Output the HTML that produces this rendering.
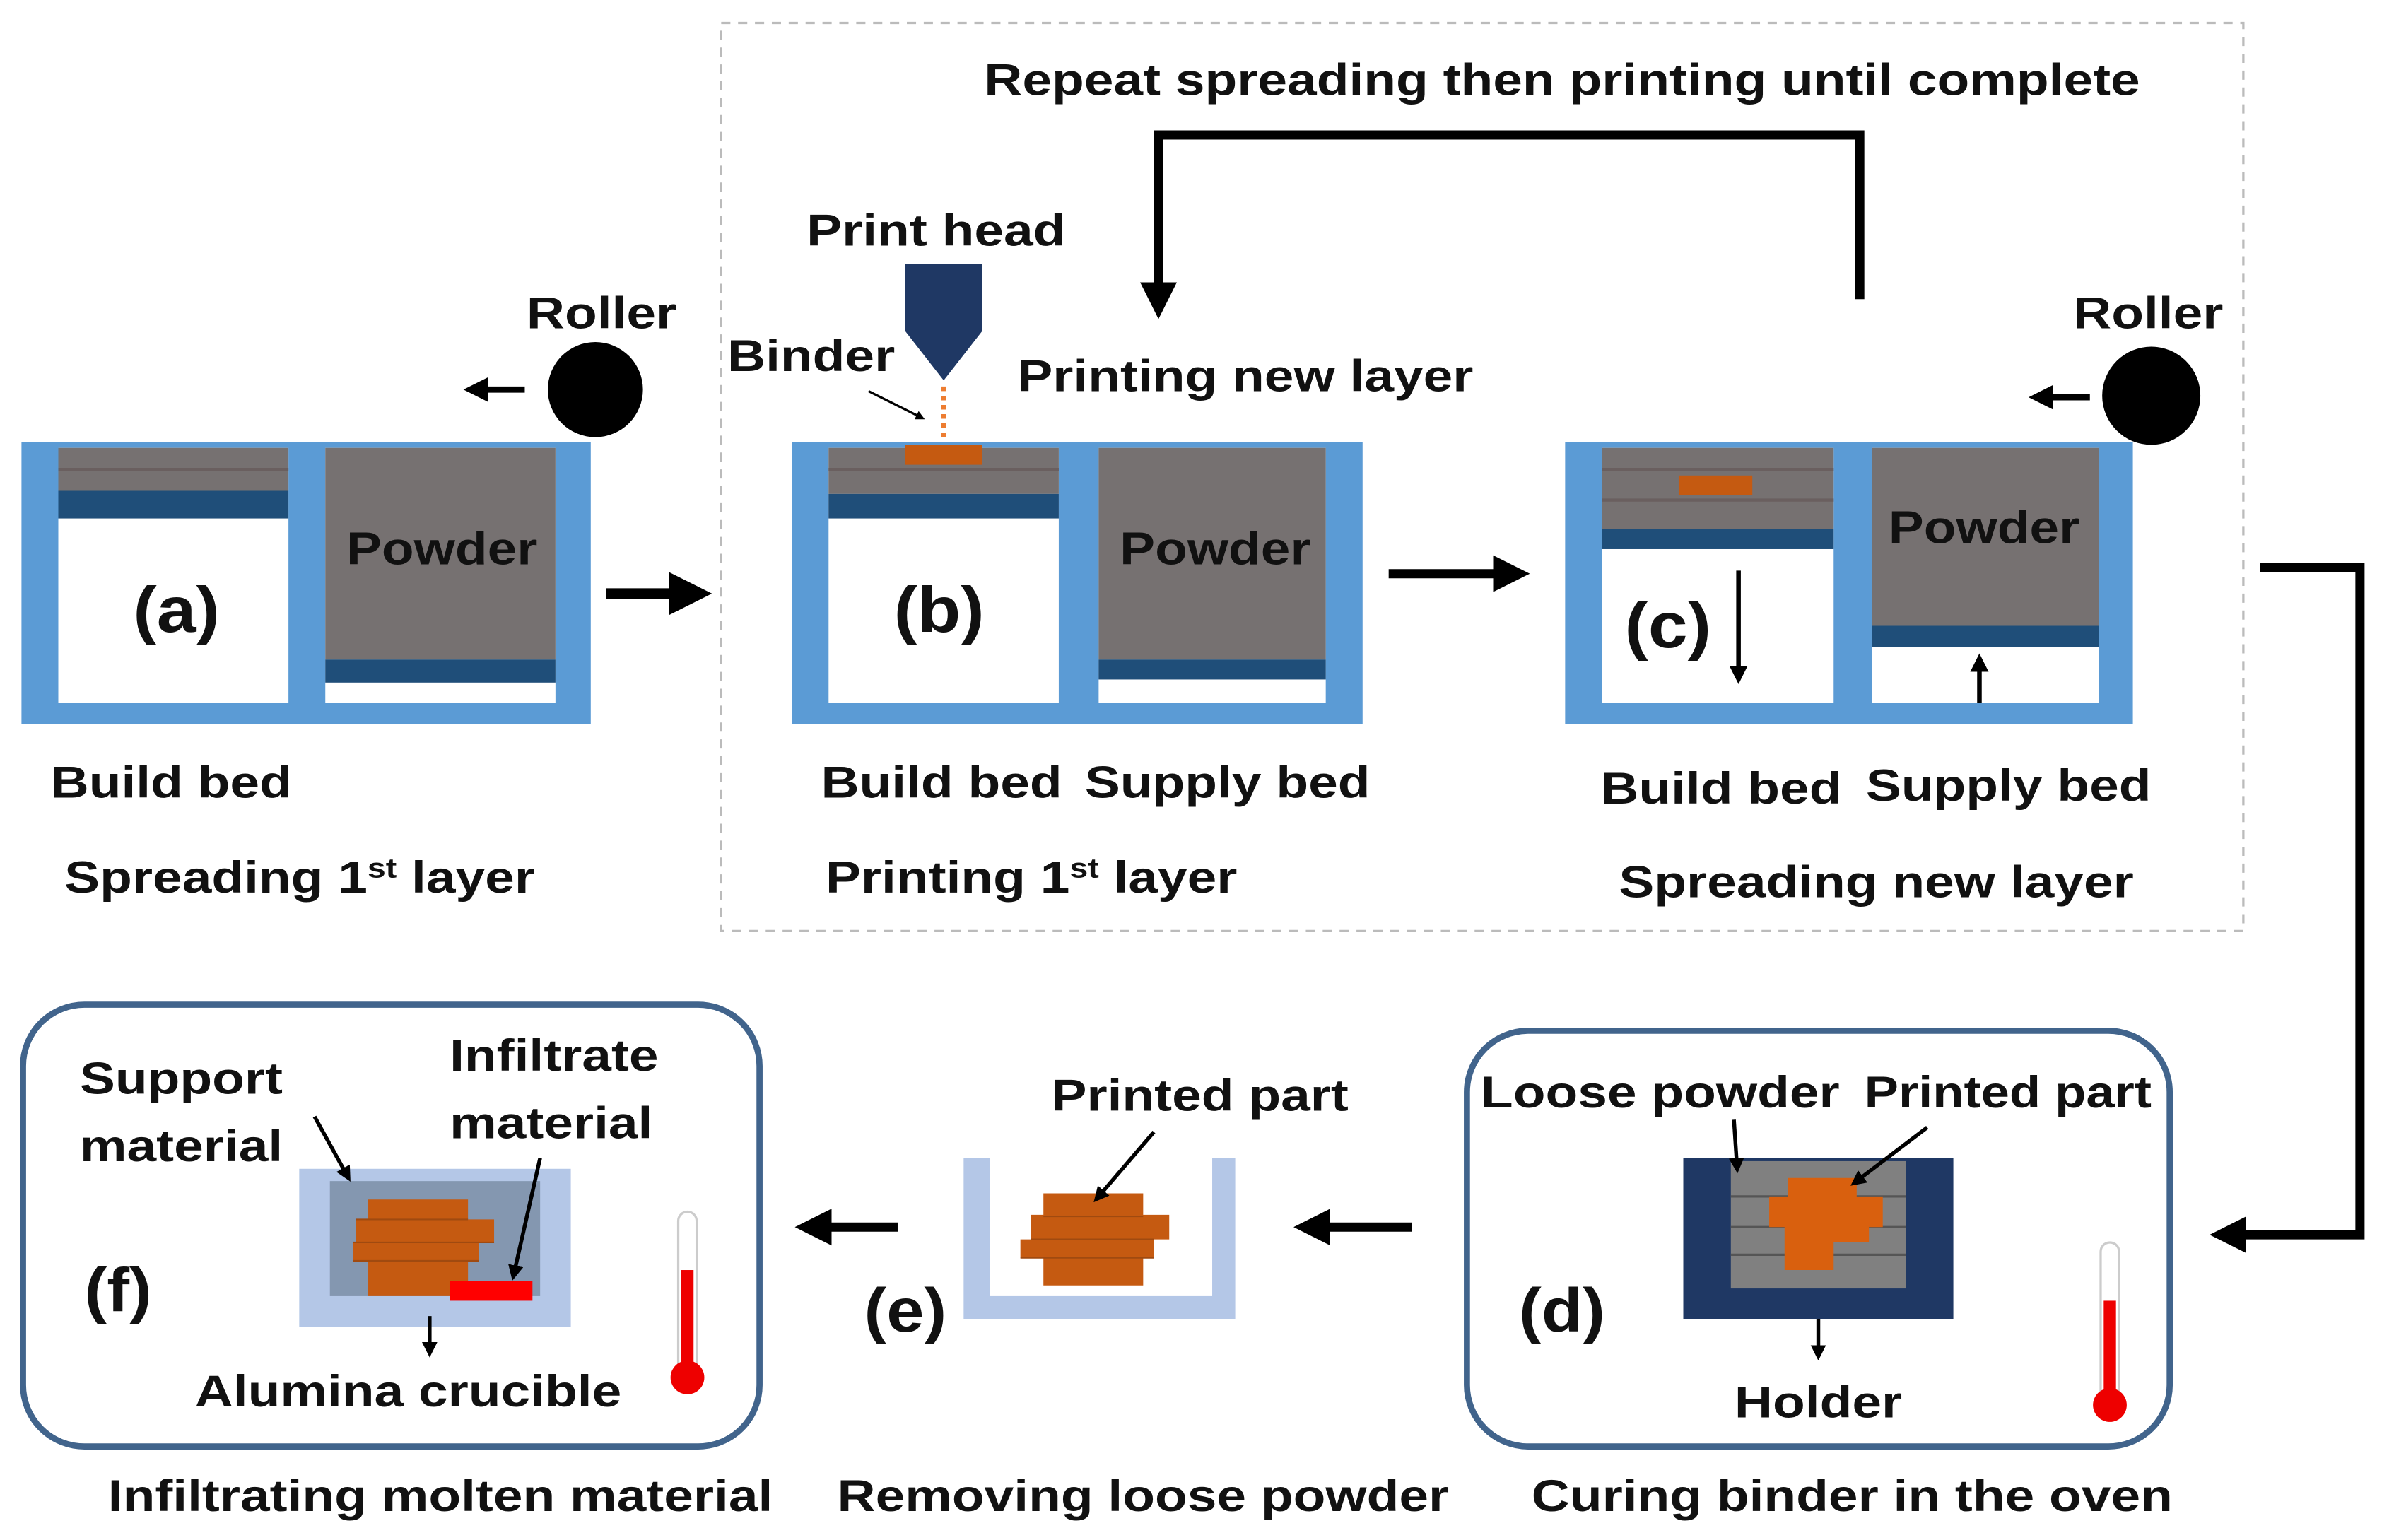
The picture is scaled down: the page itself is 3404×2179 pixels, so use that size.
<!DOCTYPE html>
<html><head><meta charset="utf-8"><style>html,body{margin:0;padding:0;background:#fff}svg{display:block}text{font-family:"Liberation Sans",sans-serif;font-weight:bold;fill:#111}</style></head>
<body>
<svg width="3404" height="2179" viewBox="0 0 1568 1004" preserveAspectRatio="none" xmlns="http://www.w3.org/2000/svg">
<defs>
<marker id="ah" markerWidth="4" markerHeight="4" refX="2" refY="2" orient="auto" markerUnits="strokeWidth"><path d="M0,0 L4,2 L0,4z" fill="#000"/></marker>
</defs>
<rect x="470" y="15" width="992" height="592" fill="none" stroke="#bbb" stroke-width="1.5" stroke-dasharray="6,5"/>
<text transform="matrix(1.19 0 0 1 1018 62)" font-size="29" text-anchor="middle">Repeat spreading then printing until complete</text>
<polyline points="1212,195 1212,88 755,88 755,196" fill="none" stroke="#000" stroke-width="6" marker-end="url(#ah)"/>

<!-- Panel a -->
<g>
<rect x="14" y="288" width="371" height="184" fill="#5b9bd5"/>
<rect x="38" y="292" width="150" height="166" fill="#fff"/>
<rect x="38" y="292" width="150" height="28" fill="#767171"/>
<line x1="38" y1="306" x2="188" y2="306" stroke="#6a5f5f" stroke-width="2"/>
<rect x="38" y="320" width="150" height="18" fill="#1f4e79"/>
<rect x="212" y="292" width="150" height="166" fill="#fff"/>
<rect x="212" y="292" width="150" height="138" fill="#767171"/>
<rect x="212" y="430" width="150" height="15" fill="#1f4e79"/>
<text transform="matrix(1.15 0 0 1 288 368)" font-size="30" text-anchor="middle">Powder</text>
<text transform="matrix(1.1 0 0 1 115 412)" font-size="42" text-anchor="middle">(a)</text>
<circle cx="388" cy="254" r="31" fill="#000"/>
<line x1="342" y1="254" x2="310" y2="254" stroke="#000" stroke-width="4" marker-end="url(#ah)"/>
<text transform="matrix(1.19 0 0 1 392 214)" font-size="29" text-anchor="middle">Roller</text>
<line x1="395" y1="387" x2="450" y2="387" stroke="#000" stroke-width="7" marker-end="url(#ah)"/>
<text transform="matrix(1.19 0 0 1 33 520)" font-size="29">Build bed</text>
<text transform="matrix(1.19 0 0 1 42 582)" font-size="29">Spreading  1<tspan font-size="18" dy="-10">st</tspan><tspan dy="10"> layer</tspan></text>
</g>

<!-- Panel b -->
<g>
<rect x="516" y="288" width="372" height="184" fill="#5b9bd5"/>
<rect x="540" y="292" width="150" height="166" fill="#fff"/>
<rect x="540" y="292" width="150" height="30" fill="#767171"/>
<line x1="540" y1="306" x2="690" y2="306" stroke="#6a5f5f" stroke-width="2"/>
<rect x="540" y="322" width="150" height="16" fill="#1f4e79"/>
<rect x="590" y="290" width="50" height="13" fill="#c55a11"/>
<rect x="716" y="292" width="148" height="166" fill="#fff"/>
<rect x="716" y="292" width="148" height="138" fill="#767171"/>
<rect x="716" y="430" width="148" height="13" fill="#1f4e79"/>
<text transform="matrix(1.15 0 0 1 792 368)" font-size="30" text-anchor="middle">Powder</text>
<text transform="matrix(1.1 0 0 1 612 412)" font-size="42" text-anchor="middle">(b)</text>
<rect x="590" y="172" width="50" height="44" fill="#1f3864"/>
<path d="M590,216 L640,216 L615,248z" fill="#1f3864"/>
<line x1="615" y1="252" x2="615" y2="288" stroke="#ed7d31" stroke-width="3" stroke-dasharray="3,3"/>
<line x1="566" y1="255" x2="600" y2="272" stroke="#000" stroke-width="1.5" marker-end="url(#ah)"/>
<text transform="matrix(1.19 0 0 1 610 160)" font-size="29" text-anchor="middle">Print head</text>
<text transform="matrix(1.19 0 0 1 474 242)" font-size="29">Binder</text>
<text transform="matrix(1.19 0 0 1 663 255)" font-size="29">Printing new layer</text>
<line x1="905" y1="374" x2="985" y2="374" stroke="#000" stroke-width="6" marker-end="url(#ah)"/>
<text transform="matrix(1.19 0 0 1 535 520)" font-size="29">Build bed</text>
<text transform="matrix(1.19 0 0 1 707 520)" font-size="29">Supply bed</text>
<text transform="matrix(1.19 0 0 1 538 582)" font-size="29">Printing  1<tspan font-size="18" dy="-10">st</tspan><tspan dy="10"> layer</tspan></text>
</g>

<!-- Panel c -->
<g>
<rect x="1020" y="288" width="370" height="184" fill="#5b9bd5"/>
<rect x="1044" y="292" width="151" height="166" fill="#fff"/>
<rect x="1044" y="292" width="151" height="53" fill="#767171"/>
<line x1="1044" y1="306" x2="1195" y2="306" stroke="#6a5f5f" stroke-width="2"/>
<line x1="1044" y1="326" x2="1195" y2="326" stroke="#6a5f5f" stroke-width="2"/>
<rect x="1094" y="310" width="48" height="13" fill="#c55a11"/>
<rect x="1044" y="345" width="151" height="13" fill="#1f4e79"/>
<rect x="1220" y="292" width="148" height="166" fill="#fff"/>
<rect x="1220" y="292" width="148" height="116" fill="#767171"/>
<rect x="1220" y="408" width="148" height="14" fill="#1f4e79"/>
<text transform="matrix(1.15 0 0 1 1293 354)" font-size="30" text-anchor="middle">Powder</text>
<text transform="matrix(1.1 0 0 1 1087 422)" font-size="42" text-anchor="middle">(c)</text>
<line x1="1133" y1="372" x2="1133" y2="440" stroke="#000" stroke-width="3" marker-end="url(#ah)"/>
<line x1="1290" y1="458" x2="1290" y2="432" stroke="#000" stroke-width="3" marker-end="url(#ah)"/>
<circle cx="1402" cy="258" r="32" fill="#000"/>
<line x1="1362" y1="259" x2="1330" y2="259" stroke="#000" stroke-width="4" marker-end="url(#ah)"/>
<text transform="matrix(1.19 0 0 1 1400 214)" font-size="29" text-anchor="middle">Roller</text>
<text transform="matrix(1.19 0 0 1 1043 524)" font-size="29">Build bed</text>
<text transform="matrix(1.19 0 0 1 1216 522)" font-size="29">Supply bed</text>
<text transform="matrix(1.19 0 0 1 1055 585)" font-size="29">Spreading new layer</text>
<polyline points="1473,370 1538,370 1538,805 1452,805" fill="none" stroke="#000" stroke-width="6" marker-end="url(#ah)"/>
</g>

<!-- Panel d -->
<g>
<rect x="956" y="672" width="458" height="271" rx="40" fill="#fff" stroke="#41648c" stroke-width="4"/>
<rect x="1097" y="755" width="176" height="105" fill="#1f3864"/>
<rect x="1128" y="757" width="114" height="83" fill="#808080"/>
<line x1="1128" y1="780" x2="1242" y2="780" stroke="#555" stroke-width="1.5"/>
<line x1="1128" y1="800" x2="1242" y2="800" stroke="#555" stroke-width="1.5"/>
<line x1="1128" y1="818" x2="1242" y2="818" stroke="#555" stroke-width="1.5"/>
<path d="M1165,768 L1210,768 L1210,780 L1227,780 L1227,800 L1218,800 L1218,810 L1195,810 L1195,828 L1163,828 L1163,800 L1153,800 L1153,780 L1165,780z" fill="#d9600e"/>
<line x1="1130" y1="730" x2="1132" y2="760" stroke="#000" stroke-width="2.5" marker-end="url(#ah)"/>
<line x1="1256" y1="735" x2="1210" y2="770" stroke="#000" stroke-width="2.5" marker-end="url(#ah)"/>
<line x1="1185" y1="860" x2="1185" y2="882" stroke="#000" stroke-width="2.5" marker-end="url(#ah)"/>
<text transform="matrix(1.19 0 0 1 965 722)" font-size="29">Loose powder</text>
<text transform="matrix(1.15 0 0 1 1215 722)" font-size="29">Printed part</text>
<text transform="matrix(1.1 0 0 1 1018 868)" font-size="40" text-anchor="middle">(d)</text>
<text transform="matrix(1.19 0 0 1 1185 924)" font-size="29" text-anchor="middle">Holder</text>
<rect x="1369" y="810" width="12" height="105" rx="6" fill="#fff" stroke="#ccc" stroke-width="1.5"/>
<rect x="1371" y="848" width="8" height="70" fill="#e00"/>
<circle cx="1375" cy="916" r="11" fill="#e00"/>
<text transform="matrix(1.19 0 0 1 1207 985)" font-size="29" text-anchor="middle">Curing binder in the oven</text>
<line x1="920" y1="800" x2="855" y2="800" stroke="#000" stroke-width="6" marker-end="url(#ah)"/>
</g>

<!-- Panel e -->
<g>
<rect x="628" y="755" width="177" height="105" fill="#b4c7e7"/>
<rect x="645" y="755" width="145" height="90" fill="#fff"/>
<path d="M680,778 L745,778 L745,792 L762,792 L762,808 L752,808 L752,820 L745,820 L745,838 L680,838 L680,820 L665,820 L665,808 L672,808 L672,792 L680,792z" fill="#c55a11"/>
<line x1="680" y1="793" x2="745" y2="793" stroke="#a04a10" stroke-width="1"/>
<line x1="672" y1="808" x2="752" y2="808" stroke="#a04a10" stroke-width="1"/>
<line x1="665" y1="820" x2="752" y2="820" stroke="#a04a10" stroke-width="1"/>
<line x1="752" y1="738" x2="716" y2="780" stroke="#000" stroke-width="2.5" marker-end="url(#ah)"/>
<text transform="matrix(1.19 0 0 1 782 724)" font-size="29" text-anchor="middle">Printed part</text>
<text transform="matrix(1.1 0 0 1 590 868)" font-size="40" text-anchor="middle">(e)</text>
<text transform="matrix(1.19 0 0 1 745 985)" font-size="29" text-anchor="middle">Removing loose powder</text>
<line x1="585" y1="800" x2="530" y2="800" stroke="#000" stroke-width="6" marker-end="url(#ah)"/>
</g>

<!-- Panel f -->
<g>
<rect x="15" y="655" width="480" height="288" rx="40" fill="#fff" stroke="#41648c" stroke-width="4"/>
<rect x="195" y="762" width="177" height="103" fill="#b4c7e7"/>
<rect x="215" y="770" width="137" height="75" fill="#8497b0"/>
<path d="M240,782 L305,782 L305,795 L322,795 L322,810 L312,810 L312,822 L305,822 L305,845 L240,845 L240,822 L230,822 L230,810 L232,810 L232,795 L240,795z" fill="#c55a11"/>
<line x1="232" y1="795" x2="305" y2="795" stroke="#a04a10" stroke-width="1"/>
<line x1="230" y1="810" x2="322" y2="810" stroke="#a04a10" stroke-width="1"/>
<line x1="230" y1="822" x2="312" y2="822" stroke="#a04a10" stroke-width="1"/>
<rect x="293" y="835" width="54" height="13" fill="#f00"/>
<line x1="205" y1="728" x2="226" y2="766" stroke="#000" stroke-width="2.5" marker-end="url(#ah)"/>
<line x1="352" y1="755" x2="335" y2="830" stroke="#000" stroke-width="2.5" marker-end="url(#ah)"/>
<line x1="280" y1="858" x2="280" y2="880" stroke="#000" stroke-width="2.5" marker-end="url(#ah)"/>
<text transform="matrix(1.19 0 0 1 52 713)" font-size="29">Support</text>
<text transform="matrix(1.19 0 0 1 52 757)" font-size="29">material</text>
<text transform="matrix(1.19 0 0 1 293 698)" font-size="29">Infiltrate</text>
<text transform="matrix(1.19 0 0 1 293 742)" font-size="29">material</text>
<text transform="matrix(1.1 0 0 1 77 855)" font-size="40" text-anchor="middle">(f)</text>
<text transform="matrix(1.19 0 0 1 127 917)" font-size="29">Alumina crucible</text>
<rect x="442" y="790" width="12" height="110" rx="6" fill="#fff" stroke="#ccc" stroke-width="1.5"/>
<rect x="444" y="828" width="8" height="72" fill="#e00"/>
<circle cx="448" cy="898" r="11" fill="#e00"/>
<text transform="matrix(1.19 0 0 1 287 985)" font-size="29" text-anchor="middle">Infiltrating molten material</text>
</g>
</svg>
</body></html>
